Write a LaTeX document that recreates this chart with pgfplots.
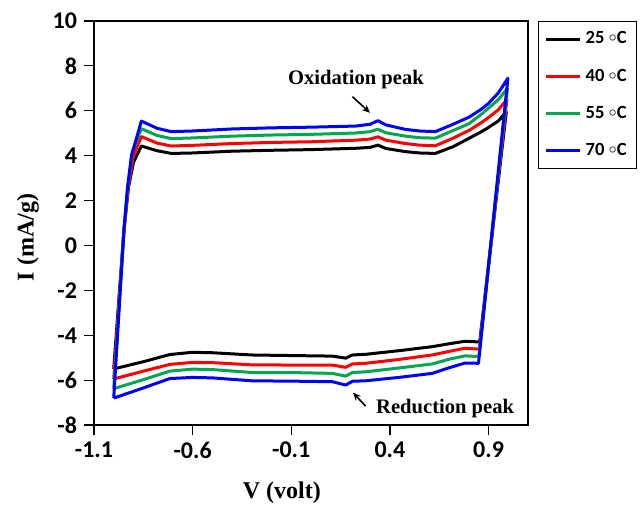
\documentclass[border=0pt]{standalone}
\usepackage{pgfplots}
\pgfplotsset{compat=1.18}
\usepackage{fontspec}
\setmainfont{Carlito}
\newfontfamily\timesb{Liberation Serif}
\usetikzlibrary{arrows.meta}
\definecolor{cvgreen}{RGB}{0,166,80}
\newcommand{\degc}{\raisebox{1pt}{$\scriptstyle\circ$}C}

\begin{document}
\begin{tikzpicture}
% keep the page the shape of the reference
\path[use as bounding box] (-47pt,-40pt) rectangle (273pt,212.5pt);
\begin{axis}[
    at={(0pt,0pt)}, anchor=south west,
    scale only axis,
    width=217pt, height=202pt,
    xmin=-1.1, xmax=1.1,
    ymin=-8, ymax=10,
    xtick={-1.1,-0.6,-0.1,0.4,0.9},
    xticklabels={-1.1,-0.6,-0.1,0.4,0.9},
    ytick={-8,-6,-4,-2,0,2,4,6,8,10},
    yticklabels={-8,-6,-4,-2,0,2,4,6,8,10},
    xtick pos=left, ytick pos=left,
    tick align=outside,
    major tick length=5pt,
    axis line style={line width=0.6pt},
    every tick/.style={black, line width=0.6pt},
    tick label style={font=\bfseries\fontsize{12}{14}\selectfont},
    xlabel={V (volt)},
    ylabel={I (mA/g)},
    label style={font=\timesb\bfseries\fontsize{12}{14}\selectfont},
    xlabel style={at={(axis description cs:0.433,-0.168)}, anchor=center},
    ylabel style={at={(axis description cs:-0.152,0.464)}, anchor=center},
    legend style={at={(rel axis cs:1.023,1.0)}, anchor=north west,
        draw=black, line width=0.6pt,
        font=\bfseries\fontsize{9.3}{11}\selectfont,
        row sep=7pt, inner sep=3pt},
    legend cell align=left,
    legend image code/.code={\draw[#1] (0pt,0pt) -- (17pt,0pt);},
    every axis plot/.append style={line width=1.5pt, line join=round},
]

% 25 C
\addplot[black] coordinates {
(-1.0,-5.5) (-0.948,0.7) (-0.925,2.6) (-0.9,3.7) (-0.86,4.43) (-0.78,4.22) (-0.708,4.10)
(-0.6,4.12) (-0.4,4.20) (-0.2,4.24) (0.0,4.27) (0.227,4.33) (0.30,4.37)
(0.339,4.47) (0.38,4.32) (0.479,4.18) (0.55,4.12) (0.63,4.10) (0.72,4.40)
(0.80,4.77) (0.86,5.05) (0.90,5.26) (0.95,5.55) (0.99,5.95)
(0.855,-4.3) (0.78,-4.27) (0.70,-4.38) (0.614,-4.51) (0.445,-4.69)
(0.277,-4.85) (0.21,-4.88) (0.176,-5.02) (0.108,-4.93) (-0.06,-4.91)
(-0.3,-4.88) (-0.5,-4.78) (-0.6,-4.76) (-0.716,-4.86) (-0.85,-5.18) (-1.0,-5.5)
};
\addlegendentry{25 \degc}

% 40 C
\addplot[red] coordinates {
(-1.0,-5.95) (-0.948,0.7) (-0.927,2.6) (-0.9,4.0) (-0.86,4.85) (-0.78,4.56) (-0.708,4.43)
(-0.6,4.46) (-0.4,4.54) (-0.2,4.59) (0.0,4.62) (0.227,4.69) (0.30,4.74)
(0.339,4.84) (0.38,4.69) (0.479,4.54) (0.55,4.47) (0.63,4.44) (0.72,4.78)
(0.80,5.12) (0.86,5.45) (0.90,5.70) (0.95,6.05) (0.993,6.5)
(0.853,-4.62) (0.78,-4.58) (0.70,-4.72) (0.614,-4.88) (0.445,-5.08)
(0.277,-5.25) (0.21,-5.28) (0.176,-5.43) (0.108,-5.33) (-0.06,-5.33)
(-0.3,-5.32) (-0.5,-5.22) (-0.6,-5.21) (-0.716,-5.3) (-0.85,-5.6) (-1.0,-5.95)
};
\addlegendentry{40 \degc}

% 55 C
\addplot[cvgreen] coordinates {
(-1.0,-6.38) (-0.948,0.7) (-0.929,2.6) (-0.905,4.2) (-0.86,5.2) (-0.78,4.9) (-0.708,4.76)
(-0.6,4.79) (-0.4,4.87) (-0.2,4.92) (0.0,4.95) (0.227,5.01) (0.30,5.07)
(0.339,5.18) (0.38,5.02) (0.479,4.87) (0.55,4.8) (0.63,4.78) (0.72,5.12)
(0.80,5.42) (0.86,5.82) (0.90,6.12) (0.95,6.5) (0.996,7.0)
(0.851,-4.95) (0.78,-4.92) (0.70,-5.07) (0.614,-5.28) (0.445,-5.46)
(0.277,-5.63) (0.21,-5.66) (0.176,-5.82) (0.108,-5.7) (-0.06,-5.67)
(-0.3,-5.66) (-0.5,-5.53) (-0.6,-5.51) (-0.716,-5.6) (-0.85,-5.98) (-1.0,-6.38)
};
\addlegendentry{55 \degc}

% 70 C
\addplot[blue] coordinates {
(-1.0,-6.8) (-0.948,0.7) (-0.93,2.6) (-0.91,4.0) (-0.86,5.54) (-0.78,5.22) (-0.708,5.07)
(-0.6,5.1) (-0.4,5.19) (-0.2,5.24) (0.0,5.27) (0.227,5.32) (0.30,5.40)
(0.339,5.56) (0.38,5.37) (0.479,5.17) (0.55,5.1) (0.63,5.07) (0.72,5.4)
(0.80,5.71) (0.86,6.05) (0.90,6.33) (0.95,6.8) (0.998,7.45)
(0.849,-5.25) (0.78,-5.24) (0.70,-5.45) (0.614,-5.70) (0.445,-5.88)
(0.277,-6.03) (0.21,-6.05) (0.176,-6.22) (0.108,-6.07) (-0.06,-6.05)
(-0.3,-6.03) (-0.5,-5.9) (-0.6,-5.88) (-0.716,-5.93) (-0.85,-6.35) (-1.0,-6.8)
};
\addlegendentry{70 \degc}

% peak labels
\node[font=\timesb\bfseries\fontsize{10.3}{12}\selectfont] at (axis cs:0.228,7.4) {Oxidation peak};
\draw[-{Stealth[length=4pt,width=3.5pt]}, line width=0.8pt] (axis cs:0.21,6.63) -- (axis cs:0.299,5.91);
\node[font=\timesb\bfseries\fontsize{10.3}{12}\selectfont] at (axis cs:0.68,-7.25) {Reduction peak};
\draw[-{Stealth[length=4pt,width=3.5pt]}, line width=0.8pt] (axis cs:0.277,-7.16) -- (axis cs:0.213,-6.56);
\end{axis}
\end{tikzpicture}
\end{document}
